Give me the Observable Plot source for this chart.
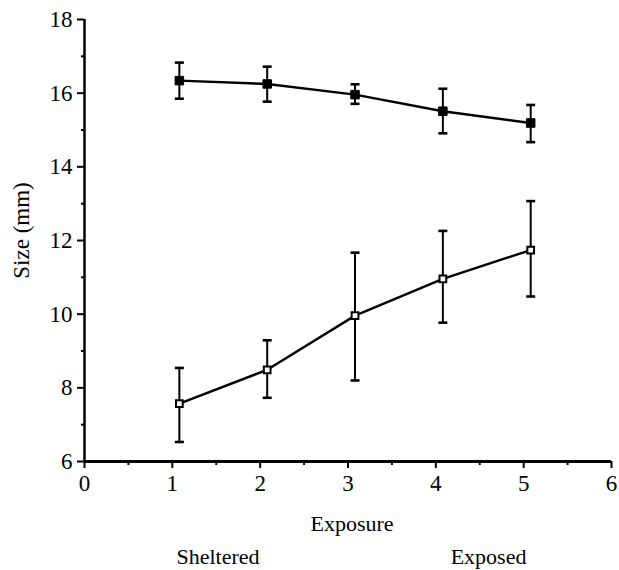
<!DOCTYPE html>
<html>
<head>
<meta charset="utf-8">
<script src="https://cdn.jsdelivr.net/npm/d3@7"></script>
<script src="https://cdn.jsdelivr.net/npm/@observablehq/plot@0.6"></script>
<style>
  html, body { margin: 0; padding: 0; background: #fff; }
  #chart svg { overflow: visible; display: block; }
  #chart svg g[aria-label="y-axis tick label"],
  #chart svg g[aria-label="x-axis tick label"],
  #chart svg g[aria-label="y-axis tick label"] text,
  #chart svg g[aria-label="x-axis tick label"] text { font-size: 23px !important; fill: #000; }
</style>
</head>
<body>
<div id="chart"></div>
<script>
// Exposure levels (points plotted slightly right of the integer ticks)
const exposure = [1.08, 2.08, 3.08, 4.08, 5.08];
// Filled squares series
const filledMean = [16.34, 16.25, 15.96, 15.51, 15.19];
const filledLo   = [15.85, 15.77, 15.71, 14.91, 14.67];
const filledHi   = [16.83, 16.72, 16.24, 16.12, 15.68];
// Open squares series
const openMean = [7.57, 8.49, 9.96, 10.96, 11.74];
const openLo   = [6.53, 7.73, 8.20, 9.77, 10.48];
const openHi   = [8.54, 9.29, 11.67, 12.26, 13.07];
// Axis ticks
const yMajor = [6, 8, 10, 12, 14, 16, 18];
const yMinor = [7, 9, 11, 13, 15, 17];
const xMajor = [0, 1, 2, 3, 4, 5, 6];
const xMinor = [0.5, 1.5, 2.5, 3.5, 4.5, 5.5];
// Text labels
const xTitle = "Exposure";
const yTitle = "Size (mm)";
const endLabels = ["Sheltered", "Exposed"];
const endLabelX = [1.52, 4.6];

const series = [
  ...exposure.map((x, i) => ({x, y: filledMean[i], lo: filledLo[i], hi: filledHi[i], s: "filled"})),
  ...exposure.map((x, i) => ({x, y: openMean[i], lo: openLo[i], hi: openHi[i], s: "open"}))
];
const filled = series.filter(d => d.s === "filled");
const open = series.filter(d => d.s === "open");
const caps = series.flatMap(d => [{x: d.x, y: d.lo}, {x: d.x, y: d.hi}]);

const capSymbol = {
  draw(ctx, size) {
    const w = 4.5;
    ctx.moveTo(-w, 0);
    ctx.lineTo(w, 0);
  }
};

const font = "Liberation Serif";
const fs = 22;

const chart = Plot.plot({
  width: 619,
  height: 570,
  marginLeft: 84,
  marginRight: 8,
  marginTop: 19,
  marginBottom: 109,
  style: {fontFamily: font, fontSize: fs + "px", color: "#000", background: "#fff"},
  x: {domain: [0, 6]},
  y: {domain: [6, 18]},
  marks: [
    Plot.axisY({ticks: yMajor, tickSize: 7, tickPadding: 5, tickFormat: d => String(d), label: null, fontSize: 23, fontFamily: font, strokeWidth: 2}),
    Plot.axisY({ticks: yMinor, tickSize: 3, tickFormat: () => "", label: null, strokeWidth: 2}),
    Plot.axisX({ticks: xMajor, tickSize: 7, tickPadding: 6, tickFormat: d => String(d), label: null, fontSize: 23, fontFamily: font, strokeWidth: 2}),
    Plot.axisX({ticks: xMinor, tickSize: 4, tickFormat: () => "", label: null, strokeWidth: 2}),
    Plot.ruleX([0], {strokeWidth: 2.5}),
    Plot.ruleY([6], {strokeWidth: 3}),
    // error bars
    Plot.ruleX(series, {x: "x", y1: "lo", y2: "hi", stroke: "#000", strokeWidth: 2}),
    Plot.dot(caps, {x: "x", y: "y", symbol: capSymbol, stroke: "#000", strokeWidth: 2.6, fill: "none", r: 4}),
    // lines
    Plot.line(filled, {x: "x", y: "y", stroke: "#000", strokeWidth: 2.4}),
    Plot.line(open, {x: "x", y: "y", stroke: "#000", strokeWidth: 2.4}),
    // markers
    Plot.dot(filled, {x: "x", y: "y", symbol: "square", r: 4.8, fill: "#000", stroke: "#000", strokeWidth: 1}),
    Plot.dot(open, {x: "x", y: "y", symbol: "square", r: 3.8, fill: "#fff", stroke: "#000", strokeWidth: 2}),
    // titles
    Plot.text([xTitle], {frameAnchor: "bottom", dx: 4, dy: 62, text: d => d, fontSize: fs, fontFamily: font, fill: "#000", lineAnchor: "middle", textAnchor: "middle"}),
    Plot.text([yTitle], {frameAnchor: "left", dx: -63, dy: -10, rotate: -90, text: d => d, fontSize: fs + 1, fontFamily: font, fill: "#000", lineAnchor: "middle", textAnchor: "middle"}),
    Plot.text(endLabels.map((t, i) => ({t, x: endLabelX[i]})), {x: "x", frameAnchor: "bottom", dy: 95, text: "t", fontSize: fs, fontFamily: font, fill: "#000", lineAnchor: "middle", textAnchor: "middle"})
  ]
});
document.getElementById("chart").appendChild(chart);
</script>
</body>
</html>
